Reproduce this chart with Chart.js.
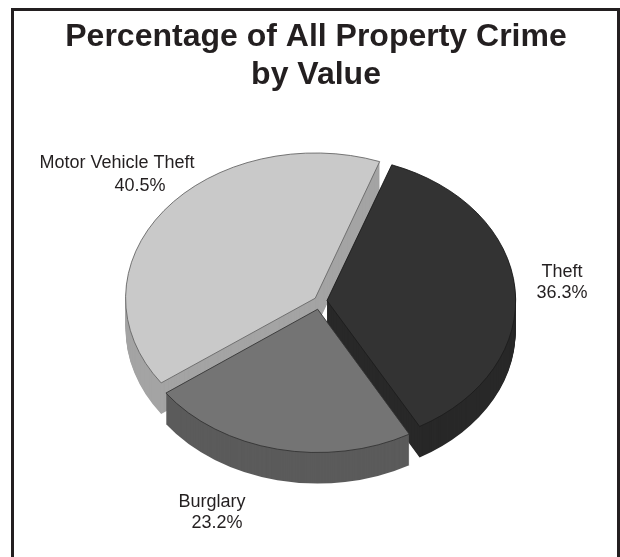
<!DOCTYPE html>
<html>
<head>
<meta charset="utf-8">
<script src="https://cdn.jsdelivr.net/npm/chart.js@4"></script>
<style>
html, body { margin: 0; background: #fff; }
#wrap { position: relative; width: 620px; height: 557px; overflow: hidden; }
#frame { position: absolute; left: 11px; top: 8px; width: 603px; height: 549px; border: 3px solid #231f20; border-bottom: none; }
#pie { position: absolute; left: 0; top: 0; }
</style>
</head>
<body>
<div id="wrap">
<div id="frame"></div>
<canvas id="pie" width="620" height="557"></canvas>
</div>
<script>
// Data
const categories = ['Theft', 'Burglary', 'Motor Vehicle Theft'];
const shares = [36.3, 23.2, 40.5];
const titleLines = ['Percentage of All Property Crime', 'by Value'];

// Look of the slices
const topColors = ['#333333', '#747474', '#c9c9c9'];
const sideColors = ['#282828', '#5b5b5b', '#a4a4a4'];
const edgeColors = ['#1c1c1c', '#333333', '#666666'];
const sliceOffsets = [28, 44, 24]; // chart.js moves an arc by offset / 4

// Label lines: [x, baseline y] for the name and for the percentage
const labelSpots = [
    [[562, 277], [562, 298]],
    [[212, 507], [217, 528]],
    [[117, 168], [140, 191]]
];

const pieX = 320, pieY = 301, tilt = 0.766, depth = 31;

function tiltContext(ctx, arc, dy) {
    ctx.translate(pieX, pieY + dy);
    ctx.scale(1, tilt);
    ctx.translate(-arc.x, -arc.y);
}

// Fake 3D: squash the pie and stack darker copies under it
const pie3d = {
    id: 'pie3d',
    beforeDatasetDraw(chart, args) {
        const ctx = chart.ctx;
        const arcs = args.meta.data;
        // back slices first, burglary sits in front
        [2, 0, 1].forEach(i => {
            const arc = arcs[i];
            const wall = new Chart.ArcElement({
                x: arc.x, y: arc.y,
                startAngle: arc.startAngle, endAngle: arc.endAngle,
                circumference: arc.circumference,
                innerRadius: arc.innerRadius, outerRadius: arc.outerRadius,
                options: Object.assign({}, arc.options, { backgroundColor: sideColors[i], borderWidth: 0 })
            });
            for (let dy = depth; dy > 0; dy--) {
                ctx.save();
                tiltContext(ctx, arc, dy);
                wall.draw(ctx);
                ctx.restore();
            }
        });
        ctx.save();
        tiltContext(ctx, arcs[0], 0);
    },
    afterDatasetDraw(chart) {
        chart.ctx.restore();
    },
    afterDraw(chart) {
        const ctx = chart.ctx;
        ctx.save();
        ctx.font = '18px "Liberation Sans", Arial, sans-serif';
        ctx.fillStyle = '#231f20';
        ctx.textAlign = 'center';
        categories.forEach((name, i) => {
            ctx.fillText(name, labelSpots[i][0][0], labelSpots[i][0][1]);
            ctx.fillText(shares[i].toFixed(1) + '%', labelSpots[i][1][0], labelSpots[i][1][1]);
        });
        ctx.restore();
    }
};

const pieChart = new Chart(document.getElementById('pie').getContext('2d'), {
    type: 'pie',
    data: {
        labels: categories,
        datasets: [{
            data: shares,
            backgroundColor: topColors,
            borderColor: edgeColors,
            borderWidth: 1,
            offset: sliceOffsets,
            clip: false
        }]
    },
    options: {
        responsive: false,
        animation: false,
        rotation: 20,
        radius: 187,
        layout: { padding: { left: 12 } },
        plugins: {
            legend: { display: false },
            tooltip: { enabled: false },
            title: {
                display: true,
                text: titleLines,
                color: '#231f20',
                font: { family: '"Liberation Sans", Arial, sans-serif', size: 32, weight: 'bold', lineHeight: 1.19 },
                padding: { top: 18, bottom: 10 }
            }
        }
    },
    plugins: [pie3d]
});
</script>
</body>
</html>
